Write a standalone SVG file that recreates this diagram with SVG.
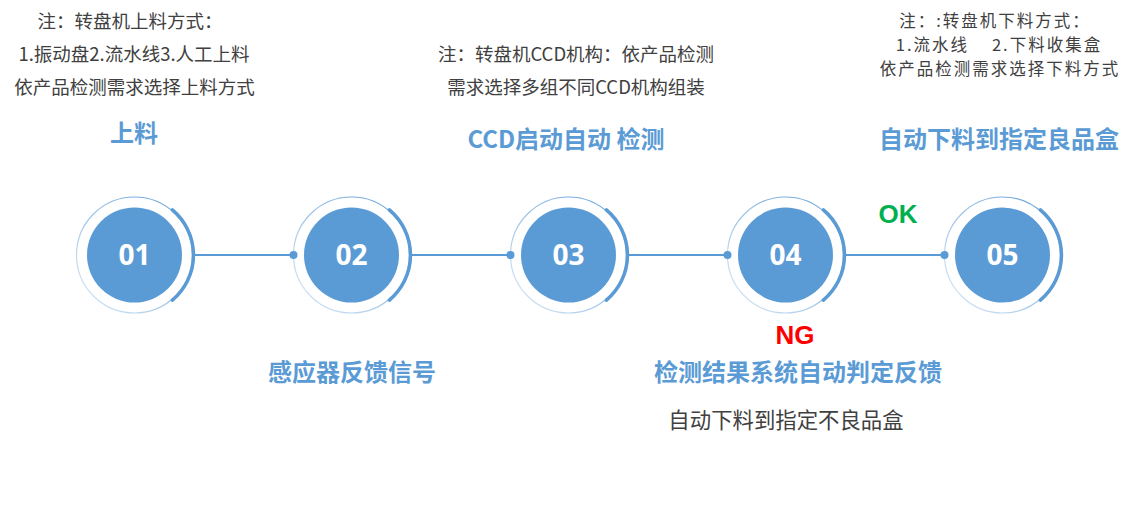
<svg xmlns="http://www.w3.org/2000/svg" width="1133" height="517" viewBox="0 0 1133 517">
<defs>
<linearGradient id="ringGrad" x1="1" y1="0" x2="0" y2="1">
<stop offset="0" stop-color="#5b9bd5"/>
<stop offset="1" stop-color="#deebf7"/>
</linearGradient>
<g id="badge">
<circle cx="0" cy="0" r="58" fill="none" stroke="url(#ringGrad)" stroke-width="1.2"/>
<path d="M37.9,-45.2 A59,59 0 0 1 37.9,45.2" fill="none" stroke="#5b9bd5" stroke-width="3.5" stroke-linecap="round"/>
<circle cx="0" cy="0" r="47.5" fill="#5b9bd5"/>
</g>
</defs>
<style>
.note{font-family:"Noto Sans CJK SC","Noto Sans",sans-serif;font-size:18.5px;fill:#404040;text-anchor:middle}
.note2{font-family:"Noto Sans CJK SC","Noto Sans",sans-serif;font-size:16.5px;letter-spacing:2px;fill:#404040;text-anchor:middle}
.title{font-family:"Noto Sans CJK SC","Noto Sans",sans-serif;font-size:24px;font-weight:bold;fill:#5b9bd5;text-anchor:middle}
.num{font-family:"Open Sans","Noto Sans",sans-serif;font-size:28px;font-weight:bold;fill:#ffffff;text-anchor:middle}
.flag{font-family:"Liberation Sans",Arial,sans-serif;font-size:26px;font-weight:bold;text-anchor:middle}
.conn{stroke:#5b9bd5;stroke-width:2;fill:none}
.dot{fill:#5b9bd5}
</style>
<rect width="1133" height="517" fill="#ffffff"/>
<g id="node01">
<use href="#badge" transform="translate(134.5,255)"/>
<text class="num" x="134.5" y="265">01</text>
</g>
<g id="node02">
<use href="#badge" transform="translate(351.5,255)"/>
<text class="num" x="351.5" y="265">02</text>
</g>
<g id="node03">
<use href="#badge" transform="translate(568.5,255)"/>
<text class="num" x="568.5" y="265">03</text>
</g>
<g id="node04">
<use href="#badge" transform="translate(785.5,255)"/>
<text class="num" x="785.5" y="265">04</text>
</g>
<g id="node05">
<use href="#badge" transform="translate(1002.5,255)"/>
<text class="num" x="1002.5" y="265">05</text>
</g>
<g id="connectors">
<line class="conn" x1="194" y1="255" x2="293.5" y2="255"/>
<circle class="dot" cx="293.5" cy="255" r="4"/>
<line class="conn" x1="411" y1="255" x2="510.5" y2="255"/>
<circle class="dot" cx="510.5" cy="255" r="4"/>
<line class="conn" x1="628" y1="255" x2="727.5" y2="255"/>
<circle class="dot" cx="727.5" cy="255" r="4"/>
<line class="conn" x1="845" y1="255" x2="944.5" y2="255"/>
<circle class="dot" cx="944.5" cy="255" r="4"/>
</g>
<g id="labels">
<text class="note" x="130" y="28">注：转盘机上料方式：</text>
<text class="note" x="134" y="61">1.振动盘2.流水线3.人工上料</text>
<text class="note" x="134.5" y="94">依产品检测需求选择上料方式</text>
<text class="title" x="134" y="142">上料</text>
<text class="note" x="576" y="61">注：转盘机CCD机构：依产品检测</text>
<text class="note" x="576" y="94">需求选择多组不同CCD机构组装</text>
<text class="title" x="566" y="148">CCD启动自动 检测</text>
<text class="note2" x="995" y="27">注：:转盘机下料方式：</text>
<text class="note2" x="999" y="51" xml:space="preserve">1.流水线    2.下料收集盒</text>
<text class="note2" x="1000" y="75">依产品检测需求选择下料方式</text>
<text class="title" x="999" y="148">自动下料到指定良品盒</text>
<text class="flag" x="898" y="223" fill="#00b050">OK</text>
<text class="flag" x="795" y="344" fill="#ff0000">NG</text>
<text class="title" x="352" y="381">感应器反馈信号</text>
<text class="title" x="798" y="381">检测结果系统自动判定反馈</text>
<text class="note" x="786" y="428" style="font-size:21.4px">自动下料到指定不良品盒</text>
</g>
</svg>
